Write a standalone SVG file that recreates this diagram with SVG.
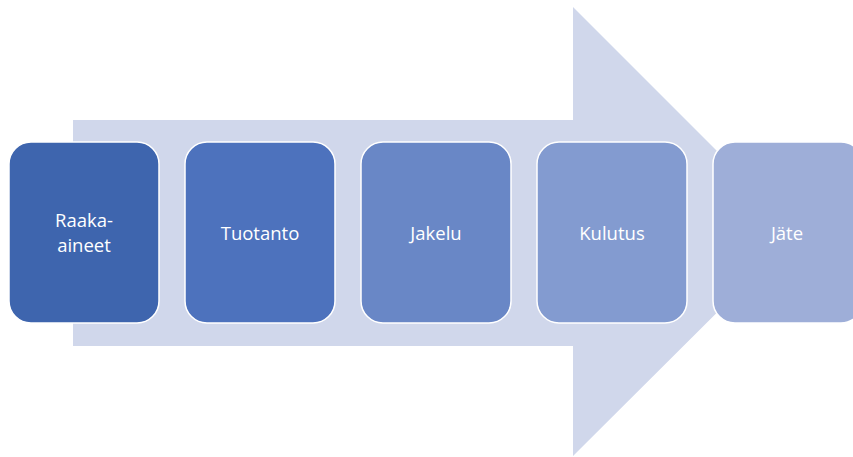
<svg xmlns="http://www.w3.org/2000/svg" width="853" height="457" viewBox="0 0 853 457">
<style>
.box{stroke:#ffffff;stroke-width:1.5}
.lbl{font-family:"Open Sans","Liberation Sans",sans-serif;font-size:18.5px;fill:#ffffff;text-anchor:middle}
</style>
<rect width="853" height="457" fill="#ffffff"/>
<g id="connectors">
<polygon points="73,120 573,120 573,7 798,232 573,456 573,346 73,346" fill="#D0D7EB"/>
</g>
<g id="n1"><rect class="box" x="9" y="142" width="150" height="181" rx="22" fill="#3E65AE"/>
<text class="lbl" x="84" y="227">Raaka-</text><text class="lbl" x="84" y="252">aineet</text></g>
<g id="n2"><rect class="box" x="185" y="142" width="150" height="181" rx="22" fill="#4D72BD"/>
<text class="lbl" x="260" y="240">Tuotanto</text></g>
<g id="n3"><rect class="box" x="361" y="142" width="150" height="181" rx="22" fill="#6987C6"/>
<text class="lbl" x="436" y="240">Jakelu</text></g>
<g id="n4"><rect class="box" x="537" y="142" width="150" height="181" rx="22" fill="#839BD0"/>
<text class="lbl" x="612" y="240">Kulutus</text></g>
<g id="n5"><rect class="box" x="713" y="142" width="150" height="181" rx="22" fill="#9EAED8"/>
<text class="lbl" x="787" y="240">Jäte</text></g>
</svg>
